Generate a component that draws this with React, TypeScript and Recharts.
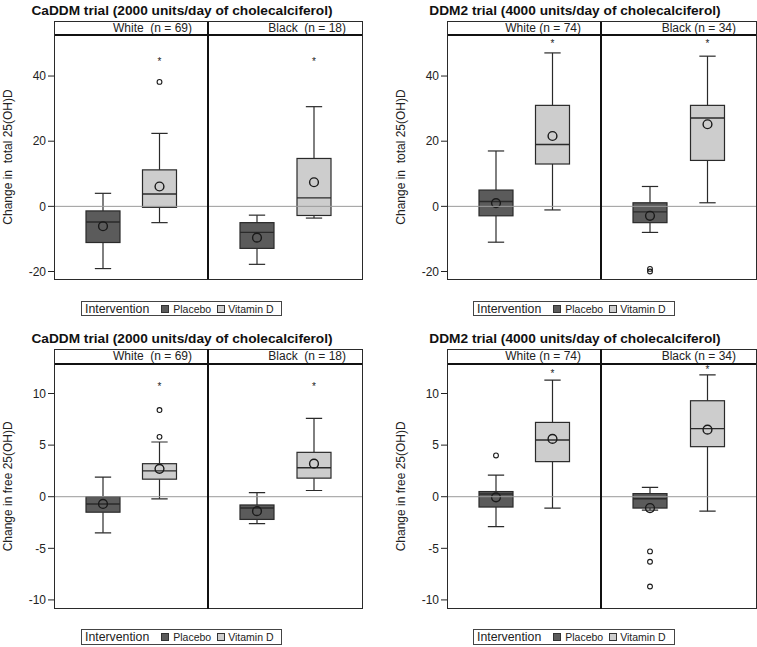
import React from 'react';
import { ComposedChart, Bar, XAxis, YAxis, ReferenceLine } from 'recharts';

const FONT = '"Liberation Sans", Arial, sans-serif';

// categories (arms) and colours
const arms = ['Placebo', 'Vitamin D'];
const armFills = ['#5b5b5b', '#cdcdcd'];

// tick labels
const totalTicks = [-20, 0, 20, 40];
const freeTicks = [-10, -5, 0, 5, 10];
const totalDomain = [-22.3, 52.6];
const freeDomain = [-10.85, 12.86];

// box stats: min, q1, median, q3, max, mean, outliers, star (significance marker)
// CaDDM - total 25(OH)D
const caddmTotalWhite = [
  { arm: 'Placebo', min: -19.1, q1: -11.1, median: -4.8, q3: -1.4, max: 4.0, mean: -6.1, outliers: [], star: null },
  { arm: 'Vitamin D', min: -5.0, q1: -0.3, median: 3.8, q3: 11.2, max: 22.4, mean: 6.1, outliers: [38.2], star: 44.9 },
];
const caddmTotalBlack = [
  { arm: 'Placebo', min: -17.8, q1: -12.9, median: -8.0, q3: -5.0, max: -2.7, mean: -9.6, outliers: [], star: null },
  { arm: 'Vitamin D', min: -3.6, q1: -2.8, median: 2.6, q3: 14.7, max: 30.6, mean: 7.4, outliers: [], star: 44.9 },
];
// DDM2 - total 25(OH)D
const ddm2TotalWhite = [
  { arm: 'Placebo', min: -11.0, q1: -2.9, median: 1.5, q3: 5.0, max: 17.0, mean: 1.0, outliers: [], star: null },
  { arm: 'Vitamin D', min: -1.1, q1: 13.0, median: 19.0, q3: 31.0, max: 47.1, mean: 21.6, outliers: [], star: 50.4 },
];
const ddm2TotalBlack = [
  { arm: 'Placebo', min: -8.0, q1: -5.0, median: -1.7, q3: 1.1, max: 6.1, mean: -2.9, outliers: [-19.2, -20.0], star: null },
  { arm: 'Vitamin D', min: 1.1, q1: 14.1, median: 27.1, q3: 31.0, max: 46.1, mean: 25.2, outliers: [], star: 50.4 },
];
// CaDDM - free 25(OH)D
const caddmFreeWhite = [
  { arm: 'Placebo', min: -3.5, q1: -1.5, median: -0.7, q3: 0.0, max: 1.9, mean: -0.7, outliers: [], star: null },
  { arm: 'Vitamin D', min: -0.2, q1: 1.7, median: 2.5, q3: 3.2, max: 5.3, mean: 2.7, outliers: [5.8, 8.4], star: 10.8 },
];
const caddmFreeBlack = [
  { arm: 'Placebo', min: -2.6, q1: -2.2, median: -1.1, q3: -0.8, max: 0.4, mean: -1.4, outliers: [], star: null },
  { arm: 'Vitamin D', min: 0.6, q1: 1.8, median: 2.8, q3: 4.3, max: 7.6, mean: 3.2, outliers: [], star: 10.8 },
];
// DDM2 - free 25(OH)D
const ddm2FreeWhite = [
  { arm: 'Placebo', min: -2.9, q1: -1.0, median: 0.26, q3: 0.5, max: 2.1, mean: -0.06, outliers: [4.0], star: null },
  { arm: 'Vitamin D', min: -1.1, q1: 3.4, median: 5.5, q3: 7.2, max: 11.3, mean: 5.6, outliers: [], star: 12.1 },
];
const ddm2FreeBlack = [
  { arm: 'Placebo', min: -1.3, q1: -1.1, median: -0.2, q3: 0.3, max: 0.9, mean: -1.1, outliers: [-5.3, -6.3, -8.7], star: null },
  { arm: 'Vitamin D', min: -1.4, q1: 4.85, median: 6.6, q3: 9.3, max: 11.8, mean: 6.5, outliers: [], star: 12.5 },
];

const cols = [
  { plotLeft: 55, divider: 208, plotRight: 362, titleX: 182, legendLeft: 81, legendWidth: 201, labelPad: 16 },
  { plotLeft: 448, divider: 601, plotRight: 756, titleX: 575, legendLeft: 473, legendWidth: 202, labelPad: 20 },
];
const rows = [
  { titleY: 10.5, stripTop: 21.5, plotTop: 35, plotBottom: 279, legendTop: 301, legendHeight: 15 },
  { titleY: 338.5, stripTop: 349.3, plotTop: 364.3, plotBottom: 609, legendTop: 629, legendHeight: 16 },
];

const NB = '\u00a0';
const panels = [
  { row: 0, col: 0, title: 'CaDDM trial (2000 units/day of cholecalciferol)', yLabel: `Change in ${NB}total 25(OH)D`, ticks: totalTicks, domain: totalDomain, white: caddmTotalWhite, black: caddmTotalBlack, whiteLabel: 'White  (n = 69)', blackLabel: 'Black  (n = 18)' },
  { row: 0, col: 1, title: 'DDM2 trial (4000 units/day of cholecalciferol)', yLabel: `Change in ${NB}total 25(OH)D`, ticks: totalTicks, domain: totalDomain, white: ddm2TotalWhite, black: ddm2TotalBlack, whiteLabel: 'White (n = 74)', blackLabel: 'Black (n = 34)' },
  { row: 1, col: 0, title: 'CaDDM trial (2000 units/day of cholecalciferol)', yLabel: 'Change in free 25(OH)D', ticks: freeTicks, domain: freeDomain, white: caddmFreeWhite, black: caddmFreeBlack, whiteLabel: 'White  (n = 69)', blackLabel: 'Black  (n = 18)' },
  { row: 1, col: 1, title: 'DDM2 trial (4000 units/day of cholecalciferol)', yLabel: 'Change in free 25(OH)D', ticks: freeTicks, domain: freeDomain, white: ddm2FreeWhite, black: ddm2FreeBlack, whiteLabel: 'White (n = 74)', blackLabel: 'Black (n = 34)' },
];

// box + whiskers + mean + outliers, mapped with the bar's own pixel scale
function BoxShape(props: any) {
  const { x, y, width, height, payload } = props;
  const top = Math.min(y, y + height);
  const h = Math.abs(height);
  const k = h / (payload.q3 - payload.q1);
  const py = (v: number) => top + (payload.q3 - v) * k;
  const cx = x + width / 2;
  const cap = width * 0.24;
  const fill = armFills[arms.indexOf(payload.arm)];
  const edge = '#2a2a2a';
  return (
    <g>
      <line x1={cx} x2={cx} y1={py(payload.max)} y2={py(payload.q3)} stroke={edge} strokeWidth={1.2} />
      <line x1={cx} x2={cx} y1={py(payload.q1)} y2={py(payload.min)} stroke={edge} strokeWidth={1.2} />
      <line x1={cx - cap} x2={cx + cap} y1={py(payload.max)} y2={py(payload.max)} stroke={edge} strokeWidth={1.2} />
      <line x1={cx - cap} x2={cx + cap} y1={py(payload.min)} y2={py(payload.min)} stroke={edge} strokeWidth={1.2} />
      <rect x={x} y={top} width={width} height={h} fill={fill} stroke={edge} strokeWidth={1.2} />
      <line x1={x} x2={x + width} y1={py(payload.median)} y2={py(payload.median)} stroke={edge} strokeWidth={1.4} />
      <circle cx={cx} cy={py(payload.mean)} r={4.4} fill="none" stroke="#1a1a1a" strokeWidth={1.4} />
      {payload.outliers.map((o: number, i: number) => (
        <circle key={i} cx={cx} cy={py(o)} r={2.4} fill="none" stroke="#1a1a1a" strokeWidth={1.1} />
      ))}
      {payload.star !== null && (
        <text x={cx} y={py(payload.star) + 5} textAnchor="middle" fontSize={10} fontFamily={FONT} fill="#222">*</text>
      )}
    </g>
  );
}

function SubPanel({ data, showAxis, left, top, width, height, domain, ticks, yLabel }: any) {
  return (
    <div style={{ position: 'absolute', left, top }}>
      <ComposedChart width={width} height={height} data={data} margin={{ top: 0, right: 0, bottom: 0, left: 0 }}>
        <XAxis dataKey="arm" hide padding={{ left: 20, right: 20 }} />
        <YAxis
          type="number"
          hide={!showAxis}
          width={55}
          domain={domain}
          ticks={ticks}
          interval={0}
          allowDataOverflow
          axisLine={false}
          tickSize={7}
          tickMargin={2}
          tick={{ fontSize: 12, fill: '#222', fontFamily: FONT }}
          tickLine={{ stroke: '#222' }}
          label={{ value: yLabel, angle: -90, position: 'insideLeft', offset: 8, style: { textAnchor: 'middle', fontSize: 12, fill: '#222', fontFamily: FONT } }}
        />
        <ReferenceLine y={0} stroke="#9a9a9a" strokeWidth={1} />
        <Bar dataKey={(d: any) => [d.q1, d.q3]} barSize={34} shape={(p: any) => <BoxShape {...p} />} isAnimationActive={false} />
      </ComposedChart>
    </div>
  );
}

function Legend({ left, top, width, height }: any) {
  const sw = (fill: string) => (
    <span style={{ display: 'inline-block', width: 8, height: 8, background: fill, border: '1px solid #333', boxSizing: 'border-box' }} />
  );
  return (
    <div style={{ position: 'absolute', left, top, width, height, border: '1px solid #444', boxSizing: 'border-box', display: 'flex', alignItems: 'center', fontFamily: FONT, color: '#222', whiteSpace: 'nowrap' }}>
      <span style={{ fontSize: 12.3, marginLeft: 3 }}>Intervention</span>
      <span style={{ marginLeft: 12, display: 'flex' }}>{sw(armFills[0])}</span>
      <span style={{ fontSize: 10.5, marginLeft: 4 }}>{arms[0]}</span>
      <span style={{ marginLeft: 6, display: 'flex' }}>{sw(armFills[1])}</span>
      <span style={{ fontSize: 10.5, marginLeft: 3 }}>{arms[1]}</span>
    </div>
  );
}

function Panel({ p }: any) {
  const c = cols[p.col];
  const r = rows[p.row];
  const plotH = r.plotBottom - r.plotTop;
  const stripH = r.plotTop - r.stripTop;
  return (
    <>
      <div style={{ position: 'absolute', left: c.titleX - 200, width: 400, top: r.titleY - 8, height: 16, lineHeight: '16px', textAlign: 'center', fontFamily: FONT, fontWeight: 'bold', fontSize: 13.7, color: '#111' }}>
        {p.title}
      </div>
      <SubPanel data={p.white} showAxis left={c.plotLeft - 55} top={r.plotTop} width={55 + c.divider - c.plotLeft} height={plotH} domain={p.domain} ticks={p.ticks} yLabel={p.yLabel} />
      <SubPanel data={p.black} showAxis={false} left={c.divider} top={r.plotTop} width={c.plotRight - c.divider} height={plotH} domain={p.domain} ticks={p.ticks} yLabel="" />
      {/* frame */}
      <div style={{ position: 'absolute', left: c.plotLeft - 1, top: r.stripTop - 0.5, width: c.plotRight - c.plotLeft + 2, height: r.plotBottom - r.stripTop + 1, border: '1.5px solid #2a2a2a', boxSizing: 'border-box' }} />
      <div style={{ position: 'absolute', left: c.plotLeft, top: r.plotTop - 1, width: c.plotRight - c.plotLeft, height: 2, background: '#111' }} />
      <div style={{ position: 'absolute', left: c.divider - 1, top: r.stripTop, width: 2, height: r.plotBottom - r.stripTop, background: '#111' }} />
      {/* strip labels */}
      <div style={{ position: 'absolute', left: c.plotLeft, top: r.stripTop, width: c.divider - c.plotLeft - c.labelPad, height: stripH, lineHeight: `${stripH}px`, textAlign: 'right', fontFamily: FONT, fontSize: 12, color: '#222', whiteSpace: 'pre' }}>
        {p.whiteLabel}
      </div>
      <div style={{ position: 'absolute', left: c.divider, top: r.stripTop, width: c.plotRight - c.divider - c.labelPad, height: stripH, lineHeight: `${stripH}px`, textAlign: 'right', fontFamily: FONT, fontSize: 12, color: '#222', whiteSpace: 'pre' }}>
        {p.blackLabel}
      </div>
      <Legend left={c.legendLeft} top={r.legendTop} width={c.legendWidth} height={r.legendHeight} />
    </>
  );
}

export default function App() {
  return (
    <div style={{ position: 'absolute', left: 0, top: 0, width: 757, height: 647, background: '#fff', overflow: 'hidden' }}>
      {panels.map((p, i) => (
        <Panel key={i} p={p} />
      ))}
    </div>
  );
}
